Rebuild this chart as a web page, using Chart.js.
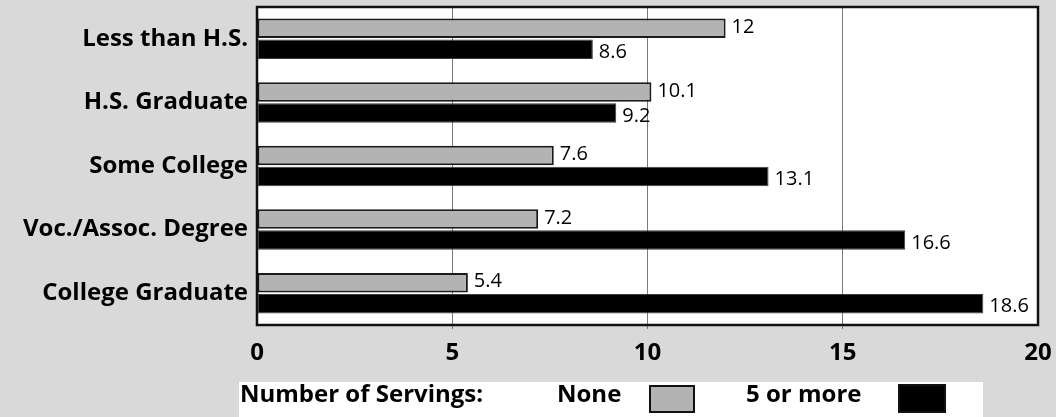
<!DOCTYPE html>
<html>
<head>
<meta charset="utf-8">
<title>Number of Servings by Education</title>
<script src="https://cdn.jsdelivr.net/npm/chart.js@4/dist/chart.umd.min.js"></script>
<style>
  html, body { margin: 0; padding: 0; background: #d9d9d9; }
  #wrap { width: 1056px; height: 417px; }
</style>
</head>
<body>
<div id="wrap"><canvas id="c" width="1056" height="417"></canvas></div>
<script>
// Education levels (top to bottom)
const categories = ['Less than H.S.', 'H.S. Graduate', 'Some College', 'Voc./Assoc. Degree', 'College Graduate'];
// Percent by number of servings
const noneServings = [12, 10.1, 7.6, 7.2, 5.4];
const fiveOrMore = [8.6, 9.2, 13.1, 16.6, 18.6];
// Axis ticks
const xTicks = [0, 5, 10, 15, 20];
const legendTitle = 'Number of Servings:';

const FONT = '"Open Sans", "DejaVu Sans", sans-serif';

// White plot area with a black frame
const plotFrame = {
  id: 'plotFrame',
  beforeDraw(chart) {
    const { ctx, chartArea: a } = chart;
    ctx.save();
    ctx.fillStyle = '#ffffff';
    ctx.fillRect(a.left, a.top, a.right - a.left, a.bottom - a.top);
    ctx.restore();
  },
  afterDatasetsDraw(chart) {
    const { ctx, chartArea: a } = chart;
    ctx.save();
    ctx.strokeStyle = '#111111';
    ctx.lineWidth = 2.5;
    ctx.strokeRect(a.left, a.top, a.right - a.left, a.bottom - a.top);
    ctx.restore();
  }
};

// Value printed just past the end of each bar
const valueLabels = {
  id: 'valueLabels',
  afterDatasetsDraw(chart) {
    const { ctx } = chart;
    ctx.save();
    ctx.font = '20px ' + FONT;
    ctx.fillStyle = '#000000';
    ctx.textAlign = 'left';
    ctx.textBaseline = 'middle';
    chart.data.datasets.forEach((ds, i) => {
      const meta = chart.getDatasetMeta(i);
      meta.data.forEach((bar, j) => {
        const dy = i === 0 ? -1 : 3;
        ctx.fillText(String(ds.data[j]), bar.x + 6, bar.y + dy);
      });
    });
    ctx.restore();
  }
};

// Legend strip: title, then each label followed by its swatch
const servingsLegend = {
  id: 'servingsLegend',
  afterDraw(chart) {
    const { ctx } = chart;
    const ds = chart.data.datasets;
    ctx.save();
    ctx.fillStyle = '#ffffff';
    ctx.fillRect(239, 382, 744, 35);
    ctx.font = 'bold 24px ' + FONT;
    ctx.fillStyle = '#000000';
    ctx.textAlign = 'left';
    ctx.textBaseline = 'alphabetic';
    ctx.fillText(legendTitle, 240, 402);
    const items = [
      { textX: 557, box: [649, 385, 46, 28] },
      { textX: 746, box: [898, 384, 48, 29] }
    ];
    items.forEach((it, i) => {
      ctx.fillStyle = '#000000';
      ctx.fillText(ds[i].label, it.textX, 402);
      const [bx, by, bw, bh] = it.box;
      ctx.fillStyle = ds[i].backgroundColor;
      ctx.fillRect(bx, by, bw, bh);
      ctx.strokeStyle = '#111111';
      ctx.lineWidth = 2;
      ctx.strokeRect(bx + 1, by + 1, bw - 2, bh - 2);
    });
    ctx.restore();
  }
};

new Chart(document.getElementById('c'), {
  type: 'bar',
  data: {
    labels: categories,
    datasets: [
      {
        label: 'None',
        data: noneServings,
        backgroundColor: '#b3b3b3',
        borderColor: '#1a1a1a',
        borderWidth: 2,
        borderSkipped: false,
        categoryPercentage: 0.66,
        barPercentage: 0.93
      },
      {
        label: '5 or more',
        data: fiveOrMore,
        backgroundColor: '#000000',
        borderColor: '#3c3c3c',
        borderWidth: 1,
        borderSkipped: false,
        categoryPercentage: 0.66,
        barPercentage: 0.93
      }
    ]
  },
  options: {
    indexAxis: 'y',
    responsive: false,
    animation: false,
    devicePixelRatio: 1,
    layout: { padding: { top: 7, right: 18, bottom: 0, left: 0 } },
    plugins: {
      legend: { display: false },
      tooltip: { enabled: false }
    },
    scales: {
      x: {
        type: 'linear',
        min: xTicks[0],
        max: xTicks[xTicks.length - 1],
        afterFit(scale) {
          scale.height = 92;
          scale.paddingLeft = 0;
          scale.paddingRight = 0;
        },
        afterBuildTicks(scale) { scale.ticks = xTicks.map(v => ({ value: v })); },
        border: { display: false },
        grid: {
          color: ctx => (ctx.tick && (ctx.tick.value === 0 || ctx.tick.value === 20)) ? 'rgba(0,0,0,0)' : '#7a7a7a',
          lineWidth: 1,
          drawTicks: true,
          tickLength: 4,
          tickColor: ctx => (ctx.tick && (ctx.tick.value === 0 || ctx.tick.value === 20)) ? 'rgba(0,0,0,0)' : '#7a7a7a'
        },
        ticks: {
          padding: 10,
          color: '#000000',
          font: { family: FONT, size: 24, weight: 'bold' },
          maxRotation: 0
        }
      },
      y: {
        afterFit(scale) {
          scale.width = 257;
          scale.paddingTop = 0;
          scale.paddingBottom = 0;
        },
        border: { display: false },
        grid: { display: false, drawTicks: false },
        ticks: {
          padding: 9,
          color: '#000000',
          font: { family: FONT, size: 24, weight: 'bold' }
        }
      }
    }
  },
  plugins: [plotFrame, valueLabels, servingsLegend]
});
</script>
</body>
</html>
